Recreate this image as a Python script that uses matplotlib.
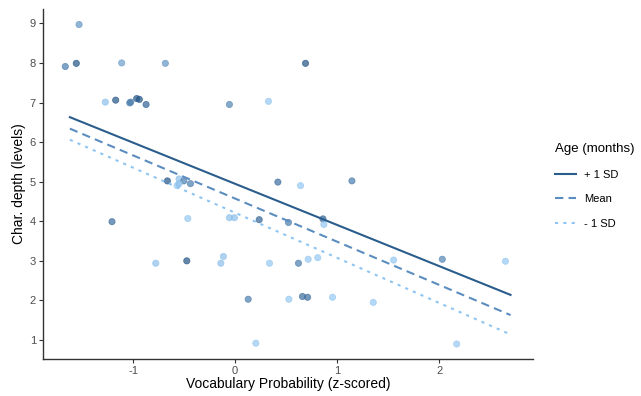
import numpy as np
import matplotlib
matplotlib.use("Agg")
import matplotlib.pyplot as plt
from matplotlib.colors import LinearSegmentedColormap

plt.rcParams['font.family'] = ['Liberation Sans', 'DejaVu Sans']
plt.rcParams['axes.unicode_minus'] = False

# observed points: vocabulary probability (z), char. depth, age (months)
vocab = [-1.53, -1.665, -1.557, -1.112, -0.684, -1.273, -1.171, -1.033, -1.024,
         -0.965, -0.939, -0.873, -0.056, 0.327, 0.69, 0.419, -0.664, -0.55,
         -0.503, -0.438, -0.569, -0.55, 0.641, 1.145, -1.207, -0.464, -0.056,
         -0.007, 0.236, 0.523, 0.861, 0.87, -0.778, -0.474, -0.14, -0.115,
         0.337, 0.621, 0.716, 0.81, 1.554, 2.031, 2.65, 0.128, 0.527, 0.66,
         0.71, 0.955, 1.354, 0.203, 2.172]
depth = [8.97, 7.91, 7.99, 8.0, 7.99, 7.01, 7.06, 6.99, 7.01,
         7.1, 7.08, 6.95, 6.95, 7.03, 7.99, 4.99, 5.02, 5.07,
         5.02, 4.95, 4.9, 4.95, 4.9, 5.02, 3.99, 4.07, 4.09,
         4.09, 4.04, 3.97, 4.06, 3.92, 2.94, 3.0, 2.94, 3.11,
         2.94, 2.94, 3.04, 3.08, 3.02, 3.04, 2.99, 2.03, 2.03, 2.1,
         2.08, 2.08, 1.95, 0.92, 0.9]
age = [22, 25, 30, 21, 22, 17, 30, 25, 25,
       30, 30, 28, 24, 16, 30, 27, 30, 17,
       25, 25, 16, 17, 16, 25, 27, 16, 17,
       17, 28, 25, 28, 16, 17, 30, 17, 17,
       16, 25, 16, 16, 16, 24, 16, 25, 16, 27,
       27, 16, 16, 16, 16]

# model predictions at the ends of the x range
line_x = [-1.62, 2.70]
pred_plus = [6.63, 2.14]
pred_mean = [6.34, 1.63]
pred_minus = [6.06, 1.14]

fig = plt.figure(figsize=(6.41, 3.96), dpi=100)
ax = fig.add_axes([0.067, 0.0934, 0.7645, 0.8836])

cmap = LinearSegmentedColormap.from_list('age', ['#9dd0fa', '#1b4d80'])
ax.scatter(vocab, depth, c=age, cmap=cmap, vmin=15, vmax=31, s=20,
           alpha=0.7, linewidths=0.6, edgecolors='face', zorder=2)

ax.plot(line_x, pred_plus, color='#2b5d8c', lw=1.5, label='+ 1 SD', zorder=3)
ax.plot(line_x, pred_mean, color='#5b8dbf', lw=1.5, ls=(0, (4, 2.5)),
        label='Mean', zorder=3)
ax.plot(line_x, pred_minus, color='#8ec5f2', lw=1.5, ls=(0, (1.5, 2.5)),
        label='- 1 SD', zorder=3)

ax.set_xlim(-1.884, 2.92)
ax.set_ylim(0.52, 9.36)
ax.set_xticks([-1, 0, 1, 2])
ax.set_yticks(range(1, 10))
ax.tick_params(labelcolor='#4d4d4d', labelsize=8, length=3, width=0.8,
               color='#333333', pad=2)
for s in ['top', 'right']:
    ax.spines[s].set_visible(False)
for s in ['left', 'bottom']:
    ax.spines[s].set_color('#333333')
    ax.spines[s].set_linewidth(1.0)

ax.set_xlabel('Vocabulary Probability (z-scored)', fontsize=10, labelpad=1)
ax.set_ylabel('Char. depth (levels)', fontsize=10, labelpad=3)

leg = fig.legend(loc='upper left', bbox_to_anchor=(0.85, 0.663),
                 title='Age (months)', frameon=False, fontsize=8,
                 title_fontsize=9.5, handlelength=1.9, labelspacing=1.3,
                 handletextpad=0.7)
leg._legend_box.align = 'left'

fig.savefig('out.png', dpi=100)
